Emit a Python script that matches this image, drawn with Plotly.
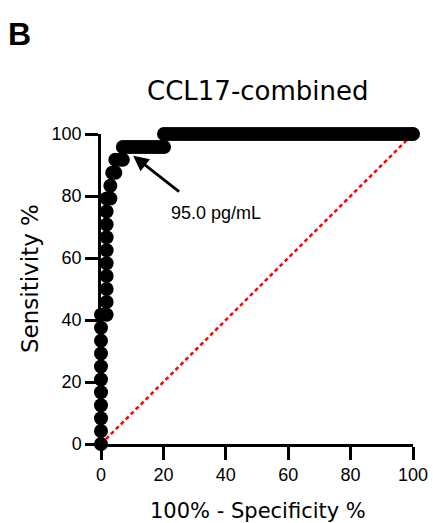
import plotly.graph_objects as go

# ROC points: 100% - specificity (x) and sensitivity (y), in %
fpr_col0 = [0, 0, 0, 0, 0, 0, 0, 0, 0, 0, 0]
tpr_col0 = [0, 4.17, 8.33, 12.5, 16.67, 20.83, 25.0, 29.17, 33.33, 37.5, 41.67]

fpr_col1 = [1.8, 1.8, 1.8, 1.8, 1.8, 1.8, 1.8, 1.8, 1.8, 1.8]
tpr_col1 = [41.67, 45.83, 50.0, 54.17, 58.33, 62.5, 66.67, 70.83, 75.0, 79.17]

fpr_knee = [3.0, 3.0, 3.6, 4.6, 4.6, 5.8, 7.0]
tpr_knee = [79.17, 83.33, 87.5, 87.5, 91.67, 91.67, 91.67]

fpr_row96 = [7.0, 8.2, 9.4, 10.6, 11.8, 13.0, 14.2, 15.4, 16.6, 17.8, 19.0, 20.2]
tpr_row96 = [95.83] * 12

fpr_row100 = [20.2, 21.4, 22.6, 23.8, 25.0, 26.2, 27.4, 28.6, 29.8, 31.0, 32.2,
              33.4, 34.6, 35.8, 37.0, 38.2, 39.4, 40.6, 41.8, 43.0, 44.2, 45.4,
              46.6, 47.8, 49.0, 50.2, 51.4, 52.6, 53.8, 55.0, 56.2, 57.4, 58.6,
              59.8, 61.0, 62.2, 63.4, 64.6, 65.8, 67.0, 68.2, 69.4, 70.6, 71.8,
              73.0, 74.2, 75.4, 76.6, 77.8, 79.0, 80.2, 81.4, 82.6, 83.8, 85.0,
              86.2, 87.4, 88.6, 89.8, 91.0, 92.2, 93.4, 94.6, 95.8, 97.0, 98.2,
              99.4, 100.0]
tpr_row100 = [100.0] * len(fpr_row100)

roc_x = fpr_col0 + fpr_col1 + fpr_knee + fpr_row96 + fpr_row100
roc_y = tpr_col0 + tpr_col1 + tpr_knee + tpr_row96 + tpr_row100

diag_x = [0, 100]
diag_y = [0, 100]

tick_vals = [0, 20, 40, 60, 80, 100]
cutoff_label = "95.0 pg/mL"
cutoff_point = (10.3, 93.0)
cutoff_tail = (25.5, 81.0)
cutoff_text_pos = (37.0, 74.5)

W, H = 433, 523
ML, MR, MT, MB = 101, 20, 134, 79
PW, PH = W - ML - MR, H - MT - MB


def to_paper(px, py):
    return (px - ML) / PW, (H - MB - py) / PH


fig = go.Figure()
fig.add_trace(go.Scatter(
    x=diag_x, y=diag_y, mode="lines",
    line=dict(color="#ff0000", width=2.5, dash="4px,3px"),
    cliponaxis=False, showlegend=False, hoverinfo="skip"))
fig.add_trace(go.Scatter(
    x=roc_x, y=roc_y, mode="markers",
    marker=dict(size=14, color="black", line=dict(width=0)),
    cliponaxis=False, showlegend=False))

tick_font = dict(family="Liberation Sans, Arial", size=18, color="black")
title_family = "DejaVu Sans"

axis_common = dict(range=[0, 100], tickvals=tick_vals, showline=True,
                   linecolor="black", linewidth=2.5, ticks="outside",
                   ticklen=13, tickwidth=2.5, tickcolor="black",
                   showgrid=False, zeroline=False, tickfont=tick_font,
                   automargin=False)
fig.update_xaxes(**axis_common)
fig.update_yaxes(**axis_common)

# arrow pointing at the cut-off
fig.add_annotation(x=cutoff_point[0], y=cutoff_point[1], ax=cutoff_tail[0], ay=cutoff_tail[1],
                   xref="x", yref="y", axref="x", ayref="y", text="",
                   showarrow=True, arrowhead=2, arrowsize=1.1, arrowwidth=2.8,
                   arrowcolor="black")
fig.add_annotation(x=cutoff_text_pos[0], y=cutoff_text_pos[1], xref="x", yref="y",
                   text=cutoff_label, showarrow=False, xanchor="center", yanchor="middle",
                   font=dict(family="Liberation Sans, Arial", size=18, color="black"))

# panel letter
bx, by = to_paper(6, 34)
fig.add_annotation(x=bx, y=by, xref="paper", yref="paper", text="<b>B</b>",
                   showarrow=False, xanchor="left", yanchor="middle",
                   font=dict(family="Liberation Sans, Arial", size=32, color="black"))
# chart title
tx, ty = to_paper(258, 91)
fig.add_annotation(x=tx, y=ty, xref="paper", yref="paper", text="CCL17-combined",
                   showarrow=False, xanchor="center", yanchor="middle",
                   font=dict(family=title_family, size=26, color="black"))
# axis titles
xx, xy = to_paper(258, 511)
fig.add_annotation(x=xx, y=xy, xref="paper", yref="paper", text="100% - Specificity %",
                   showarrow=False, xanchor="center", yanchor="middle",
                   font=dict(family=title_family, size=21, color="black"))
yx, yy = to_paper(30, 279)
fig.add_annotation(x=yx, y=yy, xref="paper", yref="paper", text="Sensitivity %",
                   showarrow=False, xanchor="center", yanchor="middle", textangle=-90,
                   font=dict(family=title_family, size=23, color="black"))

fig.update_layout(
    width=W, height=H,
    margin=dict(l=ML, r=MR, t=MT, b=MB),
    paper_bgcolor="white", plot_bgcolor="white",
)

fig.write_html("out.html")
